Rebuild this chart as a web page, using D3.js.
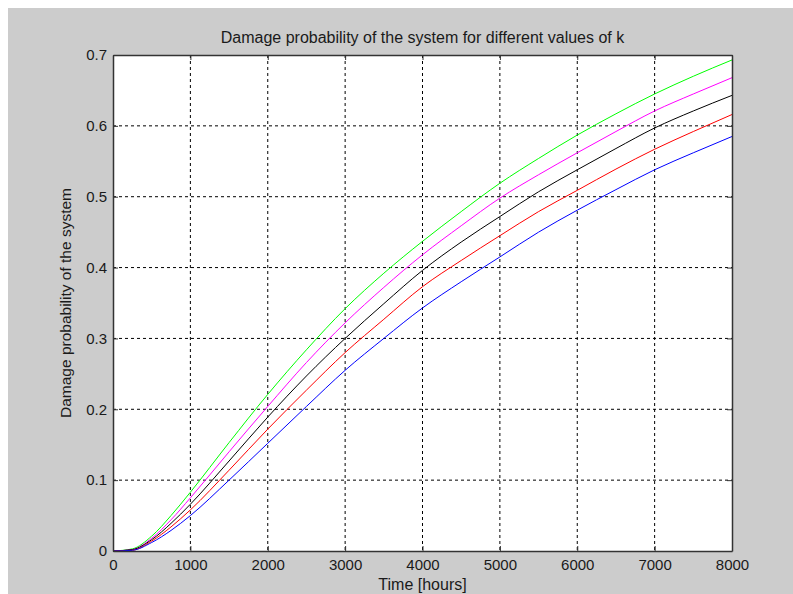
<!DOCTYPE html>
<html>
<head>
<meta charset="utf-8">
<script src="https://cdnjs.cloudflare.com/ajax/libs/d3/7.8.5/d3.min.js"></script>
<style>
  body { margin: 0; background: #fff; }
  text { font-family: "Liberation Sans", Arial, sans-serif; fill: #1a1a1a; }
</style>
</head>
<body>
<div id="chart"></div>
<script>
// data
var hours = [0, 250, 500, 750, 1000, 1500, 2000, 2500, 3000, 3500, 4000, 4500, 5000, 5500, 6000, 6500, 7000, 7500, 8000];
var seriesK1 = [0, 0.003, 0.021, 0.050, 0.083, 0.153, 0.221, 0.284, 0.342, 0.392, 0.437, 0.479, 0.519, 0.554, 0.587, 0.617, 0.645, 0.670, 0.693];
var seriesK2 = [0, 0.002, 0.018, 0.044, 0.075, 0.140, 0.204, 0.266, 0.322, 0.372, 0.418, 0.459, 0.498, 0.531, 0.562, 0.592, 0.621, 0.645, 0.668];
var seriesK3 = [0, 0.002, 0.016, 0.039, 0.066, 0.127, 0.189, 0.247, 0.300, 0.349, 0.396, 0.436, 0.472, 0.507, 0.538, 0.568, 0.597, 0.621, 0.643];
var seriesK4 = [0, 0.001, 0.014, 0.034, 0.058, 0.114, 0.172, 0.227, 0.280, 0.327, 0.373, 0.410, 0.445, 0.479, 0.509, 0.539, 0.567, 0.592, 0.616];
var seriesK5 = [0, 0.001, 0.012, 0.029, 0.050, 0.100, 0.152, 0.204, 0.255, 0.300, 0.343, 0.380, 0.415, 0.450, 0.481, 0.510, 0.538, 0.562, 0.585];
var seriesColors = ["#00ff00", "#ff00ff", "#000000", "#ff0000", "#0000ff"];
var xTicks = [0, 1000, 2000, 3000, 4000, 5000, 6000, 7000, 8000];
var yTicks = [0, 0.1, 0.2, 0.3, 0.4, 0.5, 0.6, 0.7];

var svgWidth = 793;
var svgHeight = 594;

var margin = {
  top: 55,
  right: 61,
  bottom: 43,
  left: 113
};

var width = svgWidth - margin.left - margin.right;
var height = svgHeight - margin.top - margin.bottom;

var svg = d3.select("#chart")
  .append("svg")
  .attr("width", svgWidth)
  .attr("height", svgHeight);

// grey figure background
svg.append("rect")
  .attr("x", 8)
  .attr("y", 8)
  .attr("width", svgWidth - 8)
  .attr("height", svgHeight - 8)
  .attr("fill", "#cccccc");

var chartGroup = svg.append("g")
  .attr("transform", `translate(${margin.left}, ${margin.top})`);

chartGroup.append("rect")
  .attr("width", width)
  .attr("height", height)
  .attr("fill", "#ffffff");

var xScale = d3.scaleLinear().domain([0, 8000]).range([0, width]);
var yScale = d3.scaleLinear().domain([0, 0.7]).range([height, 0]);

// dashed grid
chartGroup.append("g")
  .selectAll("line")
  .data(xTicks.slice(1, -1))
  .enter()
  .append("line")
  .attr("x1", d => xScale(d))
  .attr("x2", d => xScale(d))
  .attr("y1", 0)
  .attr("y2", height)
  .attr("stroke", "#000")
  .attr("stroke-dasharray", "3,3");

chartGroup.append("g")
  .selectAll("line")
  .data(yTicks.slice(1, -1))
  .enter()
  .append("line")
  .attr("x1", 0)
  .attr("x2", width)
  .attr("y1", d => yScale(d))
  .attr("y2", d => yScale(d))
  .attr("stroke", "#000")
  .attr("stroke-dasharray", "3,3");

// curves
var allSeries = [seriesK1, seriesK2, seriesK3, seriesK4, seriesK5];

var line = d3.line()
  .x((d, i) => xScale(hours[i]))
  .y(d => yScale(d))
  .curve(d3.curveMonotoneX);

chartGroup.selectAll(".curve")
  .data(allSeries)
  .enter()
  .append("path")
  .attr("class", "curve")
  .attr("d", d => line(d))
  .attr("fill", "none")
  .attr("stroke", (d, i) => seriesColors[i])
  .attr("stroke-width", 1);

// axes, matlab style: ticks inside on all four sides
var bottomAxis = d3.axisBottom(xScale).tickValues(xTicks).tickSizeInner(-5).tickSizeOuter(0).tickPadding(8).tickFormat(d3.format("d"));
var topAxis = d3.axisTop(xScale).tickValues(xTicks).tickSizeInner(-5).tickSizeOuter(0).tickFormat("");
var leftAxis = d3.axisLeft(yScale).tickValues(yTicks).tickSizeInner(-5).tickSizeOuter(0).tickPadding(6).tickFormat(d => d === 0 ? "0" : d3.format(".1f")(d));
var rightAxis = d3.axisRight(yScale).tickValues(yTicks).tickSizeInner(-5).tickSizeOuter(0).tickFormat("");

chartGroup.append("g").attr("transform", `translate(0, ${height})`).call(bottomAxis);
chartGroup.append("g").call(topAxis);
chartGroup.append("g").call(leftAxis);
chartGroup.append("g").attr("transform", `translate(${width}, 0)`).call(rightAxis);

chartGroup.selectAll(".domain").attr("stroke", "#333").attr("stroke-width", 1.5);
chartGroup.selectAll(".tick line").attr("stroke", "#333");
chartGroup.selectAll(".tick text")
  .style("font-family", "Liberation Sans, Arial, sans-serif")
  .style("font-size", "15px")
  .attr("fill", "#1a1a1a");

// title and axis labels
svg.append("text")
  .attr("x", margin.left + width / 2)
  .attr("y", 43)
  .attr("text-anchor", "middle")
  .style("font-size", "16px")
  .text("Damage probability of the system for different values of k");

svg.append("text")
  .attr("x", margin.left + width / 2)
  .attr("y", 590)
  .attr("text-anchor", "middle")
  .style("font-size", "16px")
  .text("Time [hours]");

svg.append("text")
  .attr("transform", "rotate(-90)")
  .attr("x", -(margin.top + height / 2))
  .attr("y", 71)
  .attr("text-anchor", "middle")
  .style("font-size", "15.5px")
  .text("Damage probability of the system");
</script>
</body>
</html>
